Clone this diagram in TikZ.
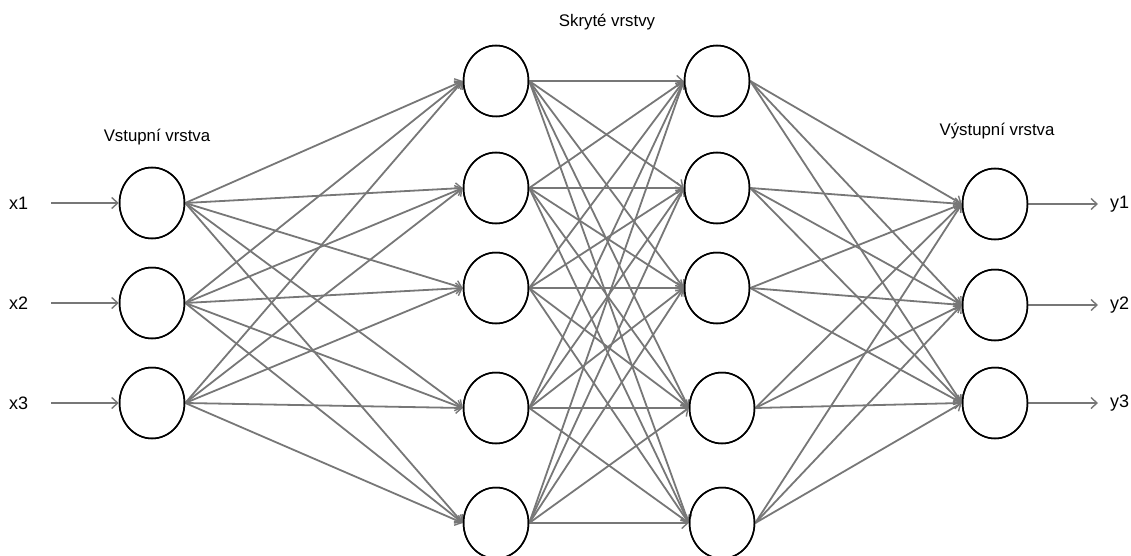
\documentclass[tikz,border=0pt]{standalone}
\usepackage{fontspec}
\setmainfont{Liberation Sans}
\usetikzlibrary{shapes.geometric,arrows.meta}
\definecolor{edgegray}{HTML}{777777}
\begin{document}
\begin{tikzpicture}[x=1pt,y=-1pt,
  neuron/.style={ellipse,draw=black,line width=1.5pt,fill=white,minimum width=65pt,minimum height=71pt,inner sep=0pt},
  conn/.style={draw=edgegray,line width=1.8pt,-{Straight Barb[length=6pt,width=11pt,line width=1.4pt]}},
  lbl/.style={font=\fontsize{16.8}{20}\selectfont,inner sep=0pt},
  iolbl/.style={font=\fontsize{18}{21}\selectfont,inner sep=0pt}]
\useasboundingbox (0,0) rectangle (1131,556);
% input layer
\node[neuron] (i1) at (152,203) {};
\node[neuron] (i2) at (152,303) {};
\node[neuron] (i3) at (152,403) {};
% hidden layer 1
\node[neuron] (a1) at (496,81) {};
\node[neuron] (a2) at (496,188) {};
\node[neuron] (a3) at (496,288) {};
\node[neuron] (a4) at (496,408) {};
\node[neuron] (a5) at (496,523) {};
% hidden layer 2
\node[neuron] (b1) at (717,81) {};
\node[neuron] (b2) at (717,188) {};
\node[neuron] (b3) at (717,288) {};
\node[neuron] (b4) at (722,408) {};
\node[neuron] (b5) at (722,523) {};
% output layer
\node[neuron] (o1) at (995,204) {};
\node[neuron] (o2) at (995,305) {};
\node[neuron] (o3) at (995,403) {};
% labels
\node[lbl] (lin) at (157,137) {Vstupní vrstva};
\node[lbl] (lhid) at (607,22) {Skryté vrstvy};
\node[lbl] (lout) at (997,131) {Výstupní vrstva};
% inputs and outputs
\foreach \k in {1,2,3}{
  \node[iolbl,anchor=west] (x\k) at (9,0 |- i\k) {x\k};
  \coordinate (xs\k) at (51,0 |- i\k);
  \draw[conn] (xs\k) -- (i\k.west);
  \node[iolbl,anchor=west] (y\k) at (1110,0 |- o\k) {y\k};
  \coordinate (ye\k) at (1098,0 |- o\k);
  \draw[conn] (o\k.east) -- (ye\k);
}
% connections
\foreach \s in {1,2,3}{\foreach \t in {1,...,5}{\draw[conn] (i\s.east) -- (a\t.west);}}
\foreach \s in {1,...,5}{\foreach \t in {1,...,5}{\draw[conn] (a\s.east) -- (b\t.west);}}
\foreach \s in {1,...,5}{\foreach \t in {1,2,3}{\draw[conn] (b\s.east) -- (o\t.west);}}
% redraw neuron outlines on top
\foreach \n in {i1,i2,i3,a1,a2,a3,a4,a5,b1,b2,b3,b4,b5,o1,o2,o3}{
  \draw[black,line width=1.5pt] (\n.center) ellipse (32.5pt and 35.5pt);
}
\end{tikzpicture}
\end{document}
